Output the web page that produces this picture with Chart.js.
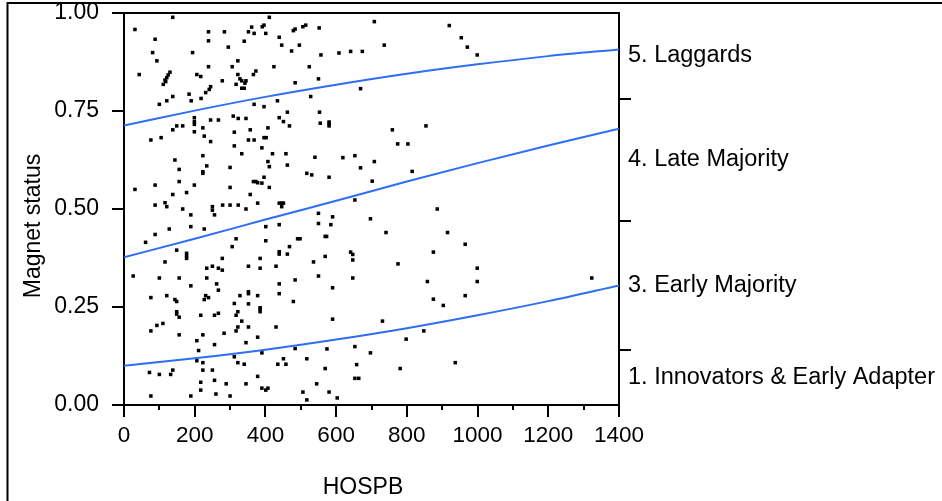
<!DOCTYPE html>
<html>
<head>
<meta charset="utf-8">
<script src="https://cdn.jsdelivr.net/npm/chart.js@4/dist/chart.umd.min.js"></script>
<style>
html,body{margin:0;padding:0;background:#fff;}
#wrap{width:942px;height:501px;position:relative;}
</style>
</head>
<body>
<div id="wrap"><canvas id="c"></canvas></div>
<script>
// ---- data ----
const hospb = [
138,31,411,239,284,361,352,368,391,396,401,479,484,506,514,88,239,340,439,295,446,496,81,194,474,93,322,239,306,424,524,43,130,125,121,116,118,111,206,217,278,322,328,333,345,342,317,333,340,373,366,484,550,245,241,231,218,184,190,138,121,100,528,434,368,396,462,553,199,199,199,199,245,267,309,323,345,439,451,468,555,166,149,138,223,227,245,357,312,407,76,105,352,368,396,402,312,390,333,420,458,540,144,223,407,411,462,156,156,234,223,223,300,517,531,396,366,373,378,390,88,199,300,411,31,138,177,357,
88,116,121,166,189,250,250,256,279,300,323,345,378,439,446,451,446,550,189,227,128,88,61,401,439,550,317,306,401,491,498,468,149,177,177,177,116,278,385,439,439,462,536,234,250,267,278,352,385,430,550,26,100,156,234,262,267,189,439,439,484,76,121,144,149,231,239,227,328,352,352,378,312,352,385,385,385,479,149,149,156,217,256,267,317,322,333,110,93,76,322,317,352,430,283,378,223,206,156,256,345,484,211,390,312,206,223,322,340,451,435,458,517,223,250,72,100,132,138,378,256,217,289,345,545,390,401,407,217,260,300,76,189,506,517,
552,708,920,954,971,999,557,608,641,674,736,669,580,580,580,759,854,774,803,619,653,669,708,580,702,815,653,
886,590,585,697,741,915,965,569,573,641,647,647,875,569,775,647,590,858,999,999,1323,875,903,965,590,731,848,798,574,653,697,937,569,658,781,653,664,580,603
];
const magnet = [
0.989,0.958,0.989,0.952,0.952,0.964,0.952,0.948,0.965,0.969,0.948,0.955,0.959,0.965,0.969,0.933,0.929,0.928,0.938,0.913,0.918,0.918,0.899,0.899,0.903,0.878,0.878,0.863,0.863,0.863,0.863,0.843,0.849,0.842,0.835,0.829,0.825,0.818,0.843,0.838,0.827,0.843,0.832,0.827,0.827,0.821,0.818,0.808,0.808,0.852,0.843,0.822,0.832,0.812,0.805,0.797,0.782,0.793,0.776,0.787,0.776,0.767,0.787,0.776,0.767,0.761,0.747,0.747,0.733,0.723,0.716,0.697,0.727,0.727,0.737,0.731,0.731,0.733,0.723,0.712,0.719,0.712,0.712,0.702,0.707,0.686,0.672,0.702,0.696,0.707,0.676,0.682,0.676,0.676,0.682,0.682,0.661,0.656,0.641,0.641,0.641,0.632,0.625,0.636,0.621,0.608,0.612,0.601,0.570,0.610,0.595,0.591,0.606,0.591,0.587,0.581,0.570,0.570,0.567,0.566,0.561,0.561,0.555,0.555,0.550,0.537,0.542,0.537,
0.510,0.516,0.506,0.500,0.485,0.506,0.497,0.485,0.510,0.510,0.510,0.500,0.515,0.515,0.515,0.515,0.506,0.489,0.455,0.449,0.449,0.435,0.415,0.455,0.460,0.463,0.424,0.404,0.419,0.424,0.424,0.404,0.395,0.387,0.380,0.374,0.365,0.374,0.374,0.391,0.385,0.385,0.365,0.349,0.354,0.349,0.344,0.354,0.349,0.354,0.329,0.329,0.324,0.324,0.324,0.309,0.293,0.304,0.309,0.284,0.319,0.274,0.279,0.269,0.264,0.279,0.274,0.269,0.279,0.289,0.284,0.279,0.259,0.258,0.248,0.244,0.238,0.264,0.238,0.232,0.224,0.229,0.229,0.234,0.229,0.238,0.214,0.208,0.203,0.189,0.199,0.189,0.199,0.199,0.183,0.173,0.179,0.164,0.179,0.154,0.159,0.144,0.139,0.133,0.123,0.113,0.108,0.108,0.104,0.118,0.104,0.104,0.118,0.089,0.089,0.083,0.078,0.078,0.089,0.073,0.063,0.058,0.054,0.054,0.054,0.043,0.038,0.043,0.038,0.028,0.023,0.023,0.023,0.033,0.013,
0.962,0.978,0.968,0.937,0.913,0.893,0.893,0.898,0.902,0.902,0.918,0.807,0.722,0.717,0.712,0.702,0.712,0.666,0.666,0.631,0.636,0.605,0.621,0.581,0.571,0.596,0.523,
0.500,0.480,0.460,0.475,0.440,0.440,0.410,0.430,0.430,0.390,0.384,0.370,0.390,0.379,0.360,0.324,0.299,0.315,0.349,0.315,0.324,0.270,0.254,0.279,0.219,0.214,0.189,0.168,0.143,0.149,0.133,0.108,0.093,0.103,0.093,0.068,0.068,0.033,0.018
];
// fitted cumulative-probability curves, read at these HOSPB values
const curveX    = [0, 200, 400, 600, 800, 1000, 1200, 1400];
const curveCum1 = [0.100, 0.119, 0.141, 0.167, 0.196, 0.229, 0.265, 0.305];
const curveCum2 = [0.377, 0.424, 0.473, 0.521, 0.570, 0.617, 0.662, 0.705];
const curveCum3 = [0.713, 0.751, 0.786, 0.817, 0.845, 0.869, 0.890, 0.907];
// right-axis category bands
const categoryLabels = ['1. Innovators & Early Adapter', '3. Early Majority', '4. Late Majority', '5. Laggards'];
const categoryBounds = [0, 0.140, 0.469, 0.781, 1.0];
const xMajorTicks = [0, 200, 400, 600, 800, 1000, 1200, 1400];
const xMinorTicks = [100, 300, 500, 700, 900, 1100, 1300];
const yTicks = [0, 0.25, 0.5, 0.75, 1.0];

// ---- build ----
const FONT = "'Liberation Sans', Arial, Helvetica, sans-serif";
Chart.defaults.font.family = FONT;
Chart.defaults.color = '#000';

const points = hospb.map((v, i) => ({x: v, y: magnet[i]}));
const mkCurve = arr => curveX.map((v, i) => ({x: v, y: arr[i]}));

const rightTicks = [];
for (let i = 0; i < categoryLabels.length; i++) {
  if (i > 0) rightTicks.push({value: categoryBounds[i], label: '', mark: true});
  rightTicks.push({value: (categoryBounds[i] + categoryBounds[i + 1]) / 2, label: categoryLabels[i], mark: false});
}
const findRight = v => rightTicks.find(t => Math.abs(t.value - v) < 1e-9);

const BLUE = '#2d6ef5';
const curveDs = arr => ({
  type: 'line', data: mkCurve(arr), borderColor: BLUE, borderWidth: 2,
  pointRadius: 0, fill: false, cubicInterpolationMode: 'monotone', showLine: true, order: 0
});

const zeroPad = s => { s.paddingTop = 0; s.paddingBottom = 0; s.paddingLeft = 0; s.paddingRight = 0; };

const decor = {
  id: 'decor',
  afterDraw(chart) {
    const {ctx, chartArea: a, scales: {x}} = chart;
    ctx.save();
    ctx.strokeStyle = '#000';
    ctx.lineWidth = 2;
    xMinorTicks.forEach(v => {
      const px = Math.round(x.getPixelForValue(v));
      ctx.beginPath(); ctx.moveTo(px, a.bottom); ctx.lineTo(px, a.bottom + 5); ctx.stroke();
    });
    ctx.beginPath(); ctx.moveTo(a.left - 1, a.top); ctx.lineTo(a.right + 1, a.top); ctx.stroke();
    ctx.beginPath(); ctx.moveTo(7.5, 501); ctx.lineTo(7.5, 3); ctx.lineTo(942, 3); ctx.stroke();
    ctx.fillStyle = '#000';
    ctx.font = '23px ' + FONT;
    ctx.textAlign = 'center';
    ctx.textBaseline = 'alphabetic';
    ctx.fillText('HOSPB', 363, 494);
    ctx.translate(40, 226);
    ctx.rotate(-Math.PI / 2);
    ctx.fillText('Magnet status', 0, 0);
    ctx.restore();
  }
};

new Chart(document.getElementById('c'), {
  type: 'scatter',
  data: {
    datasets: [
      {data: points, pointStyle: 'rect', pointRadius: 2.5, pointBorderWidth: 0,
       backgroundColor: '#000', borderColor: '#000', order: 1},
      curveDs(curveCum1), curveDs(curveCum2), curveDs(curveCum3)
    ]
  },
  options: {
    responsive: true, maintainAspectRatio: false, animation: false,
    layout: {padding: {top: 13, left: 0, right: 0, bottom: 0}},
    plugins: {legend: {display: false}, tooltip: {enabled: false}},
    scales: {
      x: {
        type: 'linear', position: 'bottom', min: 0, max: 1400,
        afterBuildTicks: s => { s.ticks = xMajorTicks.map(v => ({value: v})); },
        afterFit: s => { s.height = 96; zeroPad(s); },
        border: {color: '#000', width: 2},
        grid: {drawOnChartArea: false, drawTicks: true, tickLength: 12, color: '#000', lineWidth: 2},
        ticks: {font: {size: 22.5}, padding: 5, maxRotation: 0, autoSkip: false, color: '#000',
                callback: v => String(v)}
      },
      y: {
        type: 'linear', position: 'left', min: 0, max: 1,
        afterBuildTicks: s => { s.ticks = yTicks.map(v => ({value: v})); },
        afterFit: s => { s.width = 124; zeroPad(s); },
        border: {color: '#000', width: 2},
        grid: {drawOnChartArea: false, drawTicks: true, tickLength: 12, color: '#000', lineWidth: 2},
        ticks: {font: {size: 23}, padding: 13, color: '#000', callback: v => Number(v).toFixed(2)}
      },
      y2: {
        type: 'linear', position: 'right', min: 0, max: 1,
        afterBuildTicks: s => { s.ticks = rightTicks.map(t => ({value: t.value})); },
        afterFit: s => { s.width = 323; zeroPad(s); },
        border: {color: '#000', width: 2},
        grid: {
          drawOnChartArea: false, drawTicks: true, tickLength: 12, lineWidth: 2,
          color: c => { const t = c.tick && findRight(c.tick.value); return t && t.mark ? '#000' : 'rgba(0,0,0,0)'; }
        },
        ticks: {
          font: {size: 23.5}, padding: -3, autoSkip: false, color: '#000',
          callback: v => { const t = findRight(v); return t ? t.label : ''; }
        }
      }
    }
  },
  plugins: [decor]
});
</script>
</body>
</html>
